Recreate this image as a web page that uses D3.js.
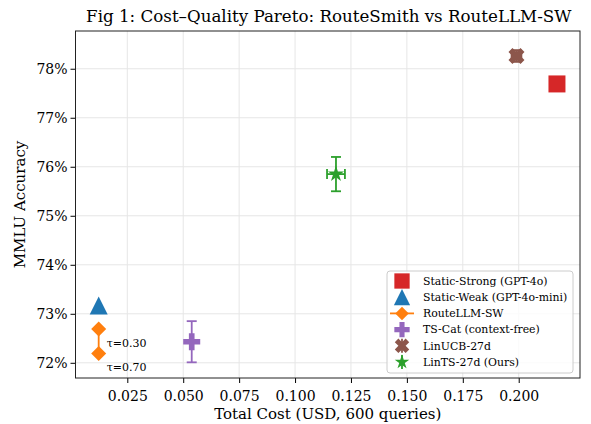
<!DOCTYPE html>
<html>
<head>
<meta charset="utf-8">
<script src="https://cdn.jsdelivr.net/npm/d3@7"></script>
<style>
  body { margin: 0; background: #fff; }
  svg text { font-family: "DejaVu Serif", serif; fill: #000; }
</style>
</head>
<body>
<div id="chart"></div>
<script>
// data
const methods = ["Static-Strong (GPT-4o)", "Static-Weak (GPT-4o-mini)", "RouteLLM-SW",
  "TS-Cat (context-free)", "LinUCB-27d", "LinTS-27d (Ours)"];
const colors = ["#d62728", "#1f77b4", "#ff7f0e", "#9467bd", "#8c564b", "#2ca02c"];
const costs = [0.2171, 0.0122, null, 0.0538, 0.1990, 0.1183];
const accs = [77.69, 73.17, null, 72.43, 78.26, 75.85];
const accErr = [0, 0, 0, 0.42, 0.12, 0.35];
const costErr = [0, 0, 0, 0, 0.0022, 0.004];
// RouteLLM sweep
const routeTaus = ["τ=0.30", "τ=0.70"];
const routeCosts = [0.0122, 0.0122];
const routeAccs = [72.69, 72.19];

const xTicks = [0.025, 0.05, 0.075, 0.1, 0.125, 0.15, 0.175, 0.2];
const yTicks = [72, 73, 74, 75, 76, 77, 78];

const W = 591, H = 424;
const M = { LEFT: 75.5, RIGHT: 11, TOP: 31, BOTTOM: 46 };

const svg = d3.select("#chart").append("svg").attr("width", W).attr("height", H);

const x = d3.scaleLinear().domain([0.00184, 0.2274]).range([M.LEFT, W - M.RIGHT]);
const y = d3.scaleLinear().domain([71.69, 78.77]).range([H - M.BOTTOM, M.TOP]);

// custom marker shapes (matplotlib-like)
function markerPath(kind, s) {
  const p = d3.path();
  const h = s / 2;
  if (kind === "square") {
    p.rect(-h, -h, s, s);
  } else if (kind === "triangle") {
    p.moveTo(0, -h); p.lineTo(h, h); p.lineTo(-h, h); p.closePath();
  } else if (kind === "diamond") {
    p.moveTo(0, -h); p.lineTo(h, 0); p.lineTo(0, h); p.lineTo(-h, 0); p.closePath();
  } else if (kind === "plus" || kind === "x") {
    const a = s / 6;
    const pts = [[-a, -h], [a, -h], [a, -a], [h, -a], [h, a], [a, a], [a, h], [-a, h],
      [-a, a], [-h, a], [-h, -a], [-a, -a]];
    const rot = kind === "x" ? Math.PI / 4 : 0;
    pts.forEach((q, i) => {
      const px = q[0] * Math.cos(rot) - q[1] * Math.sin(rot);
      const py = q[0] * Math.sin(rot) + q[1] * Math.cos(rot);
      i === 0 ? p.moveTo(px, py) : p.lineTo(px, py);
    });
    p.closePath();
  } else if (kind === "star") {
    for (let i = 0; i < 10; i++) {
      const r = i % 2 === 0 ? h : h * 0.38;
      const ang = -Math.PI / 2 + i * Math.PI / 5;
      i === 0 ? p.moveTo(r * Math.cos(ang), r * Math.sin(ang)) : p.lineTo(r * Math.cos(ang), r * Math.sin(ang));
    }
    p.closePath();
  }
  return p.toString();
}
const kinds = ["square", "triangle", "diamond", "plus", "x", "star"];
const sizes = [17, 18, 15, 17, 17, 17];

// grid
const grid = svg.append("g");
grid.selectAll(".gx").data(xTicks).enter().append("line")
  .attr("x1", d => x(d)).attr("x2", d => x(d))
  .attr("y1", M.TOP).attr("y2", H - M.BOTTOM)
  .attr("stroke", "#e6e6e6").attr("stroke-width", 1);
grid.selectAll(".gy").data(yTicks).enter().append("line")
  .attr("y1", d => y(d)).attr("y2", d => y(d))
  .attr("x1", M.LEFT).attr("x2", W - M.RIGHT)
  .attr("stroke", "#e6e6e6").attr("stroke-width", 1);

// axes
const xAxis = svg.append("g")
  .attr("transform", `translate(0, ${H - M.BOTTOM})`)
  .call(d3.axisBottom(x).tickValues(xTicks).tickFormat(d3.format(".3f")).tickSize(5).tickSizeOuter(0));
const yAxis = svg.append("g")
  .attr("transform", `translate(${M.LEFT}, 0)`)
  .call(d3.axisLeft(y).tickValues(yTicks).tickFormat(d => d + "%").tickSize(5).tickSizeOuter(0));
[xAxis, yAxis].forEach(a => {
  a.select(".domain").remove();
  a.selectAll("text").style("font-family", "DejaVu Serif").style("font-size", "14px").attr("fill", "#000");
  a.selectAll(".tick line").attr("stroke", "#000");
});
xAxis.selectAll("text").attr("dy", "1.05em");
yAxis.selectAll("text").attr("x", -8);

// frame
svg.append("rect")
  .attr("x", M.LEFT).attr("y", M.TOP)
  .attr("width", W - M.LEFT - M.RIGHT).attr("height", H - M.TOP - M.BOTTOM)
  .attr("fill", "none").attr("stroke", "#222").attr("stroke-width", 1);

// RouteLLM curve
const plot = svg.append("g");
const route = routeCosts.map((c, i) => ({ c, a: routeAccs[i], t: routeTaus[i] }));
plot.append("path")
  .datum(route)
  .attr("d", d3.line().x(d => x(d.c)).y(d => y(d.a)))
  .attr("stroke", colors[2]).attr("stroke-width", 1.8).attr("fill", "none");
plot.selectAll(".rpt").data(route).enter().append("path")
  .attr("transform", d => `translate(${x(d.c)},${y(d.a)})`)
  .attr("d", markerPath("diamond", sizes[2]))
  .attr("fill", colors[2]);
plot.selectAll(".rlab").data(route).enter().append("text")
  .attr("x", d => x(d.c) + 8).attr("y", d => y(d.a) + 18)
  .style("font-size", "11px")
  .text(d => d.t);

// error bars + markers for the other methods
const pts = methods.map((m, i) => ({ i, c: costs[i], a: accs[i], ea: accErr[i], ec: costErr[i] }))
  .filter(d => d.c !== null);
const eb = plot.selectAll(".eb").data(pts.filter(d => d.ea > 0)).enter().append("g")
  .attr("stroke", d => colors[d.i]).attr("stroke-width", 1.8);
eb.append("line")
  .attr("x1", d => x(d.c)).attr("x2", d => x(d.c))
  .attr("y1", d => y(d.a - d.ea)).attr("y2", d => y(d.a + d.ea));
eb.selectAll(".cap").data(d => [d.a - d.ea, d.a + d.ea].map(v => ({ d, v }))).enter().append("line")
  .attr("x1", e => x(e.d.c) - 5).attr("x2", e => x(e.d.c) + 5)
  .attr("y1", e => y(e.v)).attr("y2", e => y(e.v));
eb.filter(d => d.ec > 0).append("line")
  .attr("y1", d => y(d.a)).attr("y2", d => y(d.a))
  .attr("x1", d => x(d.c - d.ec)).attr("x2", d => x(d.c + d.ec));
eb.filter(d => d.ec > 0).selectAll(".capx").data(d => [d.c - d.ec, d.c + d.ec].map(v => ({ d, v }))).enter().append("line")
  .attr("x1", e => x(e.v)).attr("x2", e => x(e.v))
  .attr("y1", e => y(e.d.a) - 5).attr("y2", e => y(e.d.a) + 5);

plot.selectAll(".mk").data(pts).enter().append("path")
  .attr("transform", d => `translate(${x(d.c)},${y(d.a)})`)
  .attr("d", d => markerPath(kinds[d.i], sizes[d.i]))
  .attr("fill", d => colors[d.i]);

// title and axis labels
svg.append("text").attr("x", (M.LEFT + W - M.RIGHT) / 2 + 1).attr("y", 22)
  .attr("text-anchor", "middle").style("font-size", "16.7px")
  .text("Fig 1: Cost–Quality Pareto: RouteSmith vs RouteLLM-SW");
svg.append("text").attr("x", (M.LEFT + W - M.RIGHT) / 2).attr("y", 419)
  .attr("text-anchor", "middle").style("font-size", "15px")
  .text("Total Cost (USD, 600 queries)");
svg.append("text")
  .attr("transform", `translate(25, ${(M.TOP + H - M.BOTTOM) / 2}) rotate(-90)`)
  .attr("text-anchor", "middle").style("font-size", "15px")
  .text("MMLU Accuracy");

// legend
const lg = svg.append("g").attr("transform", "translate(387, 271)");
lg.append("rect").attr("width", 186).attr("height", 102).attr("rx", 3)
  .attr("fill", "#fff").attr("fill-opacity", 0.8).attr("stroke", "#ccc");
const item = lg.selectAll(".li").data(methods).enter().append("g")
  .attr("transform", (d, i) => `translate(15, ${10 + i * 16.2})`);
item.filter((d, i) => i === 2).append("line")
  .attr("x1", -12).attr("x2", 12).attr("stroke", colors[2]).attr("stroke-width", 1.8);
item.filter((d, i) => accErr[i] > 0).append("line")
  .attr("y1", -7).attr("y2", 7).attr("stroke", (d, i) => colors[methods.indexOf(d)]).attr("stroke-width", 1.8);
item.append("path")
  .attr("d", (d, i) => markerPath(kinds[i], sizes[i] * 0.9))
  .attr("fill", (d, i) => colors[i]);
item.append("text").attr("x", 21).attr("dy", "0.35em")
  .style("font-size", "10.9px").text(d => d);
</script>
</body>
</html>
